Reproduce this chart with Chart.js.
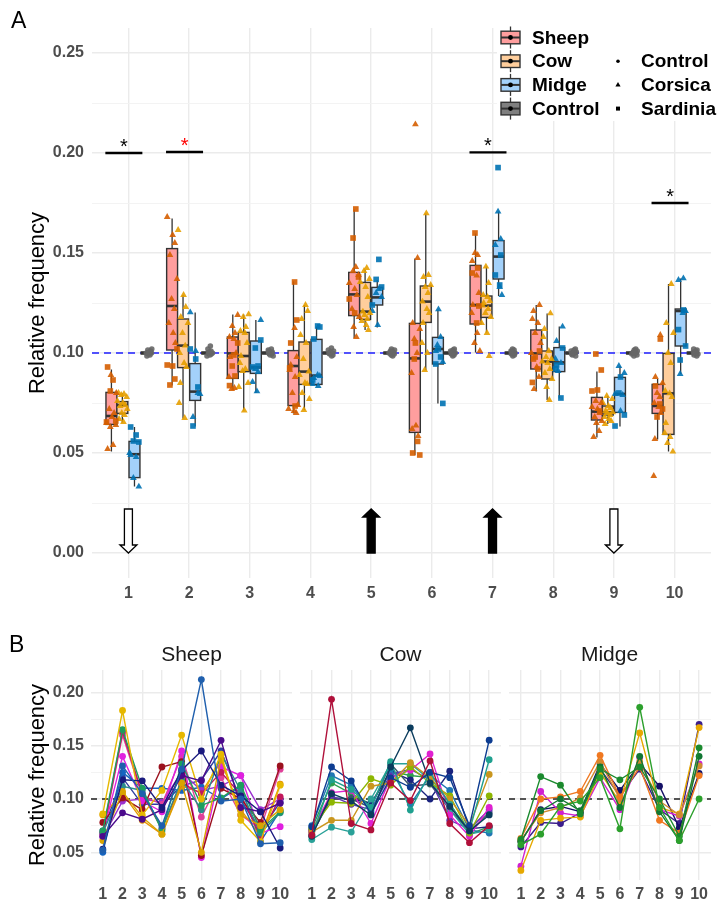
<!DOCTYPE html>
<html><head><meta charset="utf-8">
<script src="https://cdn.jsdelivr.net/npm/chart.js@4.4.1/dist/chart.umd.min.js"></script>
<style>
body{margin:0;background:#fff;width:717px;height:904px;position:relative;overflow:hidden;font-family:"Liberation Sans",Arial,sans-serif;}
canvas{position:absolute;display:block;}
.lbl{position:absolute;font-size:23px;line-height:23px;color:#000;}
.ft{position:absolute;font-size:21px;line-height:21px;text-align:center;color:#1a1a1a;width:201px;}
</style></head><body>
<canvas id="cA" width="717" height="610" style="left:0;top:0"></canvas>
<canvas id="cS" width="296" height="274" style="left:0;top:630px"></canvas>
<canvas id="cC" width="209" height="274" style="left:296px;top:630px"></canvas>
<canvas id="cM" width="212" height="274" style="left:505px;top:630px"></canvas>
<div class="lbl" style="left:11px;top:9px">A</div>
<div class="lbl" style="left:9px;top:633px">B</div>
<div class="ft" style="left:91px;top:643px">Sheep</div>
<div class="ft" style="left:300px;top:643px">Cow</div>
<div class="ft" style="left:509px;top:643px">Midge</div>
<script>
// ---------------- DATA ----------------
const positions = [1,2,3,4,5,6,7,8,9,10];
const hosts = ['Sheep','Cow','Midge','Control'];
const origins = ['Control','Corsica','Sardinia'];
const yTicksA = [0,0.025,0.05,0.075,0.1,0.125,0.15,0.175,0.2,0.225,0.25];
const yTicksB = [0.05,0.075,0.1,0.125,0.15,0.175,0.2];
const refLevel = 0.10;

// box stats per position: [lower whisker, Q1, median, Q3, upper whisker]
const sheepBox = [[0.0507,0.0643,0.0685,0.0803,0.0918],[0.0838,0.1015,0.1235,0.1522,0.1673],[0.0815,0.0873,0.0998,0.108,0.1193],[0.0698,0.0737,0.0935,0.1012,0.1357],[0.1075,0.1187,0.1293,0.1403,0.1718],[0.049,0.0603,0.0973,0.1148,0.1472],[0.1002,0.1145,0.124,0.1438,0.1598],[0.0807,0.092,0.0998,0.1115,0.124],[0.0578,0.0665,0.0707,0.0778,0.0907],[0.0568,0.0698,0.0735,0.0843,0.087]];
const cowBox = [[0.0652,0.0698,0.074,0.0757,0.080],[0.0673,0.0927,0.1037,0.117,0.129],[0.0712,0.0907,0.0985,0.1103,0.1193],[0.0715,0.0843,0.0907,0.1055,0.124],[0.1115,0.1168,0.1207,0.1353,0.1415],[0.0915,0.1153,0.1257,0.1335,0.1698],[0.1102,0.1178,0.1237,0.1285,0.1432],[0.0765,0.087,0.0957,0.101,0.1198],[0.0645,0.069,0.0703,0.0735,0.0785],[0.0507,0.0593,0.0798,0.0998,0.1345]];
const midgeBox = [[0.0332,0.0377,0.0494,0.0558,0.063],[0.0632,0.0763,0.0807,0.0947,0.1203],[0.080,0.0898,0.0928,0.106,0.1165],[0.0835,0.0843,0.0887,0.1068,0.1132],[0.1128,0.124,0.1278,0.1328,0.1365],[0.0748,0.0945,0.102,0.1078,0.1218],[0.1285,0.137,0.1482,0.1562,0.1707],[0.0773,0.0907,0.0953,0.1027,0.1132],[0.0632,0.0703,0.0795,0.0878,0.0935],[0.0895,0.1035,0.121,0.122,0.1373]];
const controlBox = [[0.0985,0.0995,0.1,0.1005,0.1015],[0.0985,0.0995,0.1,0.1005,0.1015],[0.0985,0.0995,0.1,0.1005,0.1015],[0.0985,0.0995,0.1,0.1005,0.1015],[0.0985,0.0995,0.1,0.1005,0.1015],[0.0985,0.0995,0.1,0.1005,0.1015],[0.0985,0.0995,0.1,0.1005,0.1015],[0.0985,0.0995,0.1,0.1005,0.1015],[0.0985,0.0995,0.1,0.1005,0.1015],[0.0985,0.0995,0.1,0.1005,0.1015]];

// individual samples (panel A)
const sheepCorsica = [[0.052,0.054,0.063,0.064,0.065,0.068,0.070,0.072,0.080,0.089],[0.168,0.159,0.155,0.149,0.137,0.127,0.122,0.115,0.110,0.105],[0.119,0.1135,0.110,0.108,0.107,0.100,0.098,0.088,0.0825,0.082],[0.1125,0.098,0.094,0.0915,0.088,0.080,0.074,0.072,0.071,0.070],[0.143,0.141,0.139,0.135,0.132,0.129,0.122,0.118,0.113,0.108],[0.2143,0.1475,0.115,0.112,0.107,0.100,0.090,0.0637,0.0585,0.062],[0.150,0.149,0.146,0.1387,0.130,0.124,0.120,0.110,0.105,0.101],[0.124,0.121,0.117,0.115,0.110,0.105,0.100,0.093,0.088,0.082],[0.076,0.075,0.073,0.072,0.070,0.068,0.066,0.065,0.061,0.058],[0.109,0.088,0.085,0.080,0.078,0.075,0.073,0.070,0.057,0.0385]];
const sheepSardinia = [[0.093,0.0865,0.081,0.066,0.0655],[0.094,0.0935,0.087,0.084,0.102],[0.105,0.0935,0.0885,0.0837,0.099],[0.1355,0.1165,0.105,0.0925,0.0735],[0.172,0.1575,0.138,0.127,0.120],[0.105,0.0558,0.050,0.049,0.097],[0.160,0.1425,0.140,0.115,0.1235],[0.101,0.097,0.0853,0.092,0.098],[0.0995,0.0915,0.081,0.0815,0.071],[0.107,0.0835,0.072,0.068,0.0745]];
const cowCorsica = [[0.080,0.0795,0.079,0.078,0.076,0.075,0.074,0.0735,0.072,0.070,0.069,0.067,0.0655],[0.1615,0.129,0.123,0.118,0.115,0.110,0.1037,0.100,0.095,0.093,0.085,0.075,0.0675],[0.1193,0.118,0.113,0.111,0.110,0.105,0.0985,0.095,0.092,0.091,0.085,0.083,0.0712],[0.124,0.121,0.117,0.109,0.105,0.097,0.0907,0.089,0.085,0.0845,0.080,0.077,0.0715],[0.1425,0.141,0.137,0.1355,0.133,0.128,0.1207,0.120,0.119,0.117,0.116,0.114,0.1115],[0.1698,0.139,0.138,0.134,0.133,0.130,0.1257,0.122,0.120,0.115,0.105,0.100,0.0915],[0.1432,0.135,0.129,0.128,0.126,0.125,0.1237,0.122,0.120,0.118,0.115,0.110,0.0985],[0.1198,0.112,0.108,0.101,0.098,0.097,0.0957,0.095,0.092,0.090,0.087,0.083,0.0765],[0.0785,0.077,0.075,0.0735,0.0725,0.071,0.0703,0.070,0.069,0.068,0.067,0.066,0.0645],[0.1345,0.115,0.110,0.100,0.095,0.081,0.0798,0.078,0.065,0.060,0.058,0.055,0.0507]];
const midgeCorsica = [[0.049,0.048,0.0375,0.0332,0.050],[0.1203,0.101,0.080,0.068,0.0795],[0.1165,0.092,0.0905,0.0855,0.0808],[0.089,0.0885,0.0875,0.0845,0.0835],[0.132,0.130,0.128,0.121,0.114],[0.1218,0.108,0.101,0.0955,0.104],[0.1707,0.157,0.154,0.133,0.129],[0.1132,0.106,0.097,0.095,0.091],[0.0935,0.090,0.0795,0.071,0.079],[0.1373,0.1365,0.121,0.0895,0.120]];
const midgeSardinia = [[0.063,0.059,0.056,0.0555],[0.102,0.097,0.083,0.0635],[0.1065,0.1025,0.0935,0.093],[0.1135,0.113,0.107,0.0865],[0.1468,0.1368,0.133,0.124],[0.102,0.098,0.0945,0.0748],[0.1927,0.149,0.139,0.134],[0.1025,0.094,0.092,0.0775],[0.080,0.069,0.0635,0.088],[0.1215,0.1117,0.1035,0.0965]];
const controlPts = [[0.0985,0.099,0.0995,0.1,0.1,0.1005,0.101,0.1015,0.102],[0.0985,0.099,0.0995,0.1,0.1,0.1005,0.101,0.102,0.1035],[0.0985,0.099,0.0995,0.1,0.1,0.1005,0.101,0.1015,0.102],[0.0985,0.099,0.0995,0.1,0.1,0.1005,0.101,0.1015,0.1025],[0.0985,0.099,0.0995,0.1,0.1,0.1005,0.101,0.1015,0.102],[0.0985,0.099,0.0995,0.1,0.1,0.1005,0.101,0.1015,0.102],[0.0985,0.099,0.0995,0.1,0.1,0.1005,0.101,0.1015,0.102],[0.0985,0.099,0.0995,0.1,0.1,0.1005,0.101,0.1015,0.102],[0.0985,0.099,0.0995,0.1,0.1,0.1005,0.101,0.1015,0.102],[0.0985,0.099,0.0995,0.1,0.1,0.1005,0.101,0.1015,0.102]];

// annotations (panel A)
const sigPositions = [1,2,7,10];
const sigLevels = [0.20,0.2005,0.2003,0.175];
const sigColors = ['#000000','#FF0000','#000000','#000000'];
const arrowPositions = [1,5,7,9];
const arrowDirections = ['down','up','up','down'];
const arrowTop = 0.022;

// panel B lines (one per sample)
const sheepLines = [
 [0.052,0.131,0.105,0.075,0.128,0.212,0.098,0.100,0.058,0.059],
 [0.053,0.118,0.117,0.092,0.127,0.145,0.113,0.103,0.088,0.054],
 [0.065,0.087,0.081,0.090,0.122,0.117,0.155,0.092,0.088,0.096],
 [0.086,0.183,0.085,0.108,0.160,0.100,0.142,0.080,0.060,0.113],
 [0.061,0.107,0.083,0.067,0.115,0.050,0.138,0.085,0.075,0.090],
 [0.070,0.165,0.110,0.070,0.133,0.094,0.101,0.113,0.071,0.088],
 [0.068,0.112,0.108,0.072,0.118,0.090,0.142,0.108,0.068,0.087],
 [0.078,0.101,0.090,0.130,0.135,0.047,0.110,0.100,0.078,0.131],
 [0.068,0.163,0.105,0.072,0.115,0.105,0.125,0.104,0.065,0.102],
 [0.067,0.140,0.098,0.088,0.145,0.045,0.130,0.122,0.068,0.074],
 [0.066,0.160,0.103,0.095,0.140,0.083,0.120,0.085,0.072,0.128],
 [0.064,0.098,0.100,0.097,0.125,0.108,0.112,0.122,0.090,0.100],
 [0.085,0.105,0.080,0.067,0.112,0.106,0.135,0.090,0.065,0.114],
 [0.050,0.125,0.110,0.110,0.108,0.111,0.100,0.112,0.060,0.089],
 [0.070,0.120,0.095,0.095,0.112,0.118,0.145,0.099,0.070,0.097]];
const sheepColors = ['#1F5FAD','#1A1A7E','#4B0A8C','#E6B800','#D9A400','#1E9E5E','#2A8C8C','#9B111E','#C2185B','#E020E0','#E0409A','#9B30D0','#E69500','#1565C0','#303F9F'];
const cowLines = [
 [0.066,0.1935,0.077,0.071,0.115,0.0985,0.1357,0.077,0.059,0.075],
 [0.065,0.105,0.098,0.085,0.130,0.1668,0.115,0.093,0.070,0.085],
 [0.074,0.130,0.117,0.086,0.120,0.111,0.125,0.120,0.075,0.1552],
 [0.065,0.118,0.109,0.092,0.135,0.0896,0.125,0.095,0.070,0.1368],
 [0.069,0.080,0.080,0.112,0.115,0.134,0.120,0.100,0.075,0.123],
 [0.072,0.097,0.096,0.119,0.113,0.130,0.115,0.103,0.068,0.103],
 [0.070,0.106,0.108,0.077,0.120,0.127,0.1423,0.085,0.065,0.092],
 [0.062,0.0736,0.069,0.100,0.133,0.133,0.118,0.090,0.067,0.071],
 [0.075,0.122,0.113,0.088,0.128,0.095,0.122,0.108,0.071,0.068],
 [0.070,0.103,0.095,0.090,0.123,0.128,0.118,0.080,0.072,0.090],
 [0.067,0.101,0.100,0.092,0.133,0.112,0.114,0.090,0.070,0.087],
 [0.070,0.101,0.100,0.096,0.126,0.118,0.100,0.126,0.072,0.074],
 [0.072,0.115,0.105,0.095,0.126,0.122,0.120,0.096,0.067,0.074]];
const cowColors = ['#B0103A','#0B3C5D','#0D3C91','#1FA08F','#C9961E','#8DB600','#E020D0','#2AA198','#1F77B4','#5E35B1','#37576B','#1A237E','#2E9E4F'];
const midgeLines = [
 [0.057,0.067,0.093,0.098,0.120,0.072,0.186,0.092,0.061,0.100],
 [0.062,0.121,0.113,0.086,0.128,0.118,0.130,0.100,0.065,0.148],
 [0.060,0.089,0.100,0.089,0.130,0.092,0.140,0.088,0.061,0.140],
 [0.063,0.100,0.102,0.107,0.141,0.102,0.130,0.080,0.068,0.122],
 [0.061,0.087,0.092,0.101,0.135,0.100,0.135,0.098,0.085,0.131],
 [0.033,0.080,0.082,0.083,0.125,0.097,0.162,0.092,0.086,0.167],
 [0.037,0.107,0.087,0.084,0.120,0.090,0.139,0.090,0.084,0.133],
 [0.060,0.090,0.093,0.088,0.133,0.108,0.133,0.112,0.073,0.124],
 [0.055,0.078,0.077,0.087,0.128,0.103,0.128,0.090,0.077,0.170]];
const midgeColors = ['#2CA02C','#1B8A2E','#117733','#F07820','#D08A30','#E6A800','#D020D0','#141066','#3B1E8C'];

// ---------------- STYLE ----------------
const FONT = '"Liberation Sans", Arial, sans-serif';
const hostFill = ['#FF9E9E','#FFCE9C','#A3D1FA','#7F7F7F'];
const hostPoint = ['#D55E00','#E69F00','#0072B2','#666666'];
const hostOffset = [-0.28,-0.1,0.1,0.3];
const boxWidth = 0.18;
const jit = [-0.7,0.3,-0.2,0.8,-0.9,0.1,0.5,-0.4,0.9,-0.1,0.4,-0.6,0.2,0.6,-0.5];
const boxSets = [sheepBox, cowBox, midgeBox, controlBox];

const ptDatasets = [];
function addPts(arr, hi, style, radius, amp, extra) {
  const data = [];
  arr.forEach((vals, pi) => vals.forEach((v, i) => {
    data.push({x: positions[pi] + hostOffset[hi] + (extra||0) + jit[(i + pi * 4) % jit.length] * amp, y: v});
  }));
  ptDatasets.push({type:'scatter', data, pointStyle: style, pointRadius: radius, pointHoverRadius: radius,
    backgroundColor: hostPoint[hi] + 'E6', borderWidth: 0});
}
addPts(sheepCorsica, 0, 'triangle', 3.9, 0.09);
addPts(sheepSardinia, 0, 'rect', 4.0, 0.09);
addPts(cowCorsica, 1, 'triangle', 3.9, 0.09);
addPts(midgeCorsica, 2, 'triangle', 3.9, 0.09);
addPts(midgeSardinia, 2, 'rect', 4.0, 0.09);
addPts(controlPts, 3, 'circle', 2.8, 0.05, 0.04);

const isMajor = v => Math.abs(Math.round(v / 0.05) * 0.05 - v) < 1e-9;

const boxPlugin = {
  id: 'boxes',
  beforeDatasetsDraw(chart) {
    const {ctx, chartArea} = chart; const x = chart.scales.x, y = chart.scales.y;
    ctx.save();
    ctx.strokeStyle = '#1F1FFF'; ctx.lineWidth = 1.4; ctx.setLineDash([7,5]);
    const yr = y.getPixelForValue(refLevel);
    ctx.beginPath(); ctx.moveTo(chartArea.left, yr); ctx.lineTo(chartArea.right, yr); ctx.stroke();
    ctx.setLineDash([]);
    boxSets.forEach((stats, hi) => stats.forEach((s, pi) => {
      const cx = x.getPixelForValue(positions[pi] + hostOffset[hi]);
      const hw = (x.getPixelForValue(boxWidth) - x.getPixelForValue(0)) / 2;
      const [lo, q1, md, q3, hiW] = s.map(v => y.getPixelForValue(v));
      ctx.strokeStyle = '#333333'; ctx.lineWidth = 1.3;
      ctx.beginPath(); ctx.moveTo(cx, lo); ctx.lineTo(cx, q1); ctx.moveTo(cx, q3); ctx.lineTo(cx, hiW); ctx.stroke();
      ctx.fillStyle = hostFill[hi];
      ctx.fillRect(cx - hw, q3, 2 * hw, q1 - q3);
      ctx.lineWidth = 1.4; ctx.strokeRect(cx - hw, q3, 2 * hw, q1 - q3);
      ctx.lineWidth = 2.6; ctx.beginPath(); ctx.moveTo(cx - hw, md); ctx.lineTo(cx + hw, md); ctx.stroke();
    }));
    ctx.restore();
  },
  afterDatasetsDraw(chart) {
    const {ctx} = chart; const x = chart.scales.x, y = chart.scales.y;
    ctx.save();
    // significance bars
    sigPositions.forEach((p, i) => {
      const x0 = x.getPixelForValue(p - 0.38), x1 = x.getPixelForValue(p + 0.23);
      const yy = y.getPixelForValue(sigLevels[i]);
      ctx.strokeStyle = '#000'; ctx.lineWidth = 2.4;
      ctx.beginPath(); ctx.moveTo(x0, yy); ctx.lineTo(x1, yy); ctx.stroke();
      ctx.fillStyle = sigColors[i]; ctx.font = '20px ' + FONT; ctx.textAlign = 'center'; ctx.textBaseline = 'alphabetic';
      ctx.fillText('*', (x0 + x1) / 2, yy - 0.5);
    });
    // arrows
    arrowPositions.forEach((p, i) => {
      const cx = x.getPixelForValue(p);
      const yTop = y.getPixelForValue(arrowTop), yBot = y.getPixelForValue(0);
      const sw = 4, hw = 8.5, hl = 8;
      ctx.beginPath();
      if (arrowDirections[i] === 'down') {
        ctx.moveTo(cx - sw, yTop); ctx.lineTo(cx + sw, yTop); ctx.lineTo(cx + sw, yBot - hl); ctx.lineTo(cx + hw, yBot - hl);
        ctx.lineTo(cx, yBot); ctx.lineTo(cx - hw, yBot - hl); ctx.lineTo(cx - sw, yBot - hl); ctx.closePath();
        ctx.fillStyle = '#fff';
      } else {
        ctx.moveTo(cx - sw, yBot); ctx.lineTo(cx + sw, yBot); ctx.lineTo(cx + sw, yTop + hl); ctx.lineTo(cx + hw, yTop + hl);
        ctx.lineTo(cx, yTop); ctx.lineTo(cx - hw, yTop + hl); ctx.lineTo(cx - sw, yTop + hl); ctx.closePath();
        ctx.fillStyle = '#000';
      }
      ctx.fill(); ctx.strokeStyle = '#000'; ctx.lineWidth = 1.3; ctx.stroke();
    });
    // legend
    ctx.fillStyle = '#fff'; ctx.fillRect(497, 22, 220, 99);
    ctx.font = 'bold 19px ' + FONT; ctx.textAlign = 'left'; ctx.textBaseline = 'middle';
    hosts.forEach((h, i) => {
      const ry = 37.5 + i * 23.7, kx = 510.5;
      ctx.strokeStyle = '#333'; ctx.lineWidth = 1.3;
      ctx.beginPath(); ctx.moveTo(kx, ry - 11); ctx.lineTo(kx, ry + 11); ctx.stroke();
      ctx.fillStyle = hostFill[i]; ctx.fillRect(kx - 9.5, ry - 6.3, 19, 12.6);
      ctx.lineWidth = 1.4; ctx.strokeRect(kx - 9.5, ry - 6.3, 19, 12.6);
      ctx.lineWidth = 2; ctx.beginPath(); ctx.moveTo(kx - 9.5, ry); ctx.lineTo(kx + 9.5, ry); ctx.stroke();
      ctx.fillStyle = '#000'; ctx.beginPath(); ctx.arc(kx, ry, 2.4, 0, Math.PI * 2); ctx.fill();
      ctx.fillText(h, 532, ry + 1);
    });
    origins.forEach((o, i) => {
      const ry = 37.5 + (i + 1) * 23.7, sx = 618;
      ctx.fillStyle = '#000'; ctx.beginPath();
      if (i === 0) ctx.arc(sx, ry, 1.8, 0, Math.PI * 2);
      else if (i === 1) { ctx.moveTo(sx, ry - 3); ctx.lineTo(sx + 2.6, ry + 1.6); ctx.lineTo(sx - 2.6, ry + 1.6); ctx.closePath(); }
      else ctx.rect(sx - 2, ry - 2, 4, 4);
      ctx.fill();
      ctx.fillText(o, 641, ry + 1);
    });
    ctx.restore();
  }
};

const tickFont = {family: FONT, size: 16, weight: 'bold'};
new Chart(document.getElementById('cA'), {
  type: 'scatter',
  data: {datasets: ptDatasets},
  options: {
    responsive: false, animation: false, events: [],
    layout: {padding: {top: 28, left: 0, right: 6, bottom: 0}},
    plugins: {legend: {display: false}, tooltip: {enabled: false}},
    scales: {
      x: {type: 'linear', min: 0.4, max: 10.6,
        afterBuildTicks: s => { s.ticks = positions.map(v => ({value: v})); },
        afterFit: s => { s.height = 32; },
        grid: {color: '#EBEBEB', lineWidth: 1.4, drawTicks: false},
        border: {display: false},
        ticks: {font: tickFont, color: '#4D4D4D', padding: 6, maxRotation: 0, autoSkip: false, callback: v => String(v)}},
      y: {type: 'linear', min: -0.0125, max: 0.2625,
        afterBuildTicks: s => { s.ticks = yTicksA.map(v => ({value: v})); },
        afterFit: s => { s.width = 92; },
        grid: {color: c => (c.tick && isMajor(c.tick.value)) ? '#EBEBEB' : '#F2F2F2',
               lineWidth: c => (c.tick && isMajor(c.tick.value)) ? 1.4 : 0.9, drawTicks: false},
        border: {display: false},
        ticks: {font: tickFont, color: '#4D4D4D', padding: 8, autoSkip: false, callback: v => isMajor(v) ? v.toFixed(2) : ''},
        title: {display: true, text: 'Relative frequency', font: {family: FONT, size: 22}, color: '#000', padding: {top: 25, bottom: 0}}}
    }
  },
  plugins: [boxPlugin]
});

const hlinePlugin = {
  id: 'hline',
  beforeDatasetsDraw(chart) {
    const {ctx, chartArea} = chart; const yy = chart.scales.y.getPixelForValue(refLevel);
    ctx.save(); ctx.strokeStyle = '#222'; ctx.lineWidth = 1.4; ctx.setLineDash([6,5]);
    ctx.beginPath(); ctx.moveTo(chartArea.left, yy); ctx.lineTo(chartArea.right, yy); ctx.stroke(); ctx.restore();
  }
};
function makeFacet(id, lines, colors, showY, pad) {
  new Chart(document.getElementById(id), {
    type: 'line',
    data: {datasets: lines.map((vals, i) => ({
      data: vals.map((v, j) => ({x: positions[j], y: v})),
      borderColor: colors[i], backgroundColor: colors[i], pointBackgroundColor: colors[i],
      borderWidth: 1.4, pointRadius: 3.4, pointHoverRadius: 3.4, pointBorderWidth: 0, tension: 0, fill: false}))},
    options: {
      responsive: false, animation: false, events: [],
      layout: {padding: pad},
      plugins: {legend: {display: false}, tooltip: {enabled: false}},
      scales: {
        x: {type: 'linear', min: 0.4, max: 10.6,
          afterBuildTicks: s => { s.ticks = positions.map(v => ({value: v})); },
          afterFit: s => { s.height = 24; },
          grid: {color: '#EBEBEB', lineWidth: 1.4, drawTicks: false},
          border: {display: false},
          ticks: {font: tickFont, color: '#4D4D4D', padding: 5, maxRotation: 0, autoSkip: false, callback: v => String(v)}},
        y: {type: 'linear', min: 0.024, max: 0.221,
          afterBuildTicks: s => { s.ticks = yTicksB.map(v => ({value: v})); },
          afterFit: s => { s.width = showY ? 91 : 0; },
          grid: {color: c => (c.tick && isMajor(c.tick.value)) ? '#EBEBEB' : '#F2F2F2',
                 lineWidth: c => (c.tick && isMajor(c.tick.value)) ? 1.4 : 0.9, drawTicks: false},
          border: {display: false},
          ticks: {display: showY, font: tickFont, color: '#4D4D4D', padding: 7, autoSkip: false, callback: v => isMajor(v) ? v.toFixed(2) : ''},
          title: {display: showY, text: 'Relative frequency', font: {family: FONT, size: 22}, color: '#000', padding: {top: 25, bottom: 0}}}
      }
    },
    plugins: [hlinePlugin]
  });
}
makeFacet('cS', sheepLines, sheepColors, true, {top: 40, left: 0, right: 4, bottom: 0});
makeFacet('cC', cowLines, cowColors, false, {top: 40, left: 4, right: 4, bottom: 0});
makeFacet('cM', midgeLines, midgeColors, false, {top: 40, left: 4, right: 6, bottom: 0});
</script>
</body></html>
